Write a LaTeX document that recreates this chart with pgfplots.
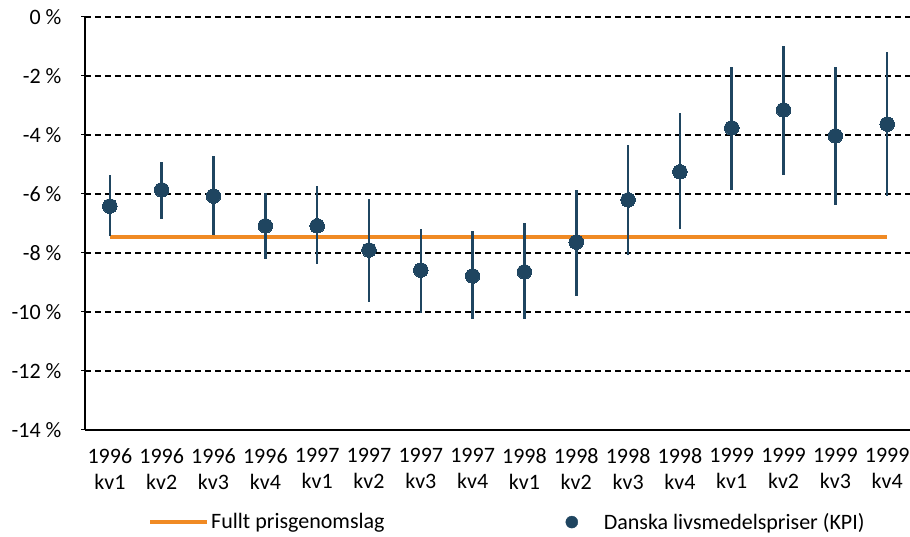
\documentclass[border=0pt]{standalone}
\usepackage{pgfplots}
\pgfplotsset{compat=1.18}
\usepackage{pgfplotstable}
\usepackage{fontspec}
\setmainfont{Carlito}
\definecolor{dotblue}{HTML}{1F4560}
\definecolor{lineorange}{HTML}{F08A24}
\pgfplotstableread{
x y ep em
0 -6.41 1.05 1.01
1 -5.86 0.94 0.99
2 -6.07 1.36 1.32
3 -7.08 1.11 1.12
4 -7.08 1.35 1.29
5 -7.90 1.73 1.76
6 -8.58 1.39 1.45
7 -8.78 1.53 1.46
8 -8.64 1.66 1.60
9 -7.63 1.77 1.83
10 -6.20 1.86 1.87
11 -5.25 2.00 1.94
12 -3.76 2.07 2.10
13 -3.15 2.17 2.21
14 -4.03 2.34 2.34
15 -3.63 2.44 2.44
}\kpi
\pgfplotstableread{
x y
0 -7.45
15 -7.45
}\full
\begin{document}
\begin{tikzpicture}
\begin{axis}[
  at={(0,0)}, anchor=south west,
  scale only axis, width=825pt, height=413pt,
  font=\fontsize{22}{26}\selectfont,
  tick label style={font=\fontsize{22}{26}\selectfont},
  xmin=-0.48, xmax=15.44,
  ymin=-14, ymax=0,
  ytick={-14,-12,...,0},
  yticklabel={\pgfmathprintnumber{\tick}~\%},
  /pgf/number format/assume math mode=true,
  xtick={0,...,15},
  xticklabels={{1996\\kv1},{1996\\kv2},{1996\\kv3},{1996\\kv4},{1997\\kv1},{1997\\kv2},{1997\\kv3},{1997\\kv4},{1998\\kv1},{1998\\kv2},{1998\\kv3},{1998\\kv4},{1999\\kv1},{1999\\kv2},{1999\\kv3},{1999\\kv4}},
  xticklabel style={align=center, yshift=-11pt},
  x tick style={draw=none},
  yticklabel style={xshift=-16pt},
  y tick style={black, line width=1pt},
  tick align=outside,
  major tick length=8pt,
  axis x line=bottom, axis y line=left,
  axis line style={black, line width=1.2pt, -},
  ymajorgrids,
  major grid style={black, line width=1.3pt, dash pattern=on 6pt off 4pt},
  legend columns=2,
  legend style={draw=none, fill=none, inner sep=0pt, at={(0.0764,-0.223)}, anchor=west,
    /tikz/every even column/.append style={column sep=179pt},
    font=\fontsize{22}{24}\selectfont},
  legend cell align=left,
  clip=false,
]
\addplot[lineorange, line width=4pt,
  legend image code/.code={\draw[lineorange, line width=4pt] (0pt,0pt) -- (57pt,0pt);}]
  table[x=x,y=y]{\full};
\addlegendentry{Fullt prisgenomslag}
\addplot[dotblue, only marks, mark=*, mark size=7.3pt,
  mark options={dotblue, line width=0pt},
  legend image code/.code={\fill[dotblue] (0pt,0pt) circle (6pt); \path[draw=none, fill=none] (-6pt,0pt) rectangle (30pt,1pt);},
  error bars/.cd, y dir=both, y explicit, error mark=none,
  error bar style={dotblue, line width=2.5pt}]
  table[x=x, y=y, y error plus=ep, y error minus=em]{\kpi};
\addlegendentry{Danska livsmedelspriser (KPI)}
\end{axis}
\pgfresetboundingbox
\path[use as bounding box] (-85pt,-107pt) rectangle (825pt,430pt);
\end{tikzpicture}
\end{document}
